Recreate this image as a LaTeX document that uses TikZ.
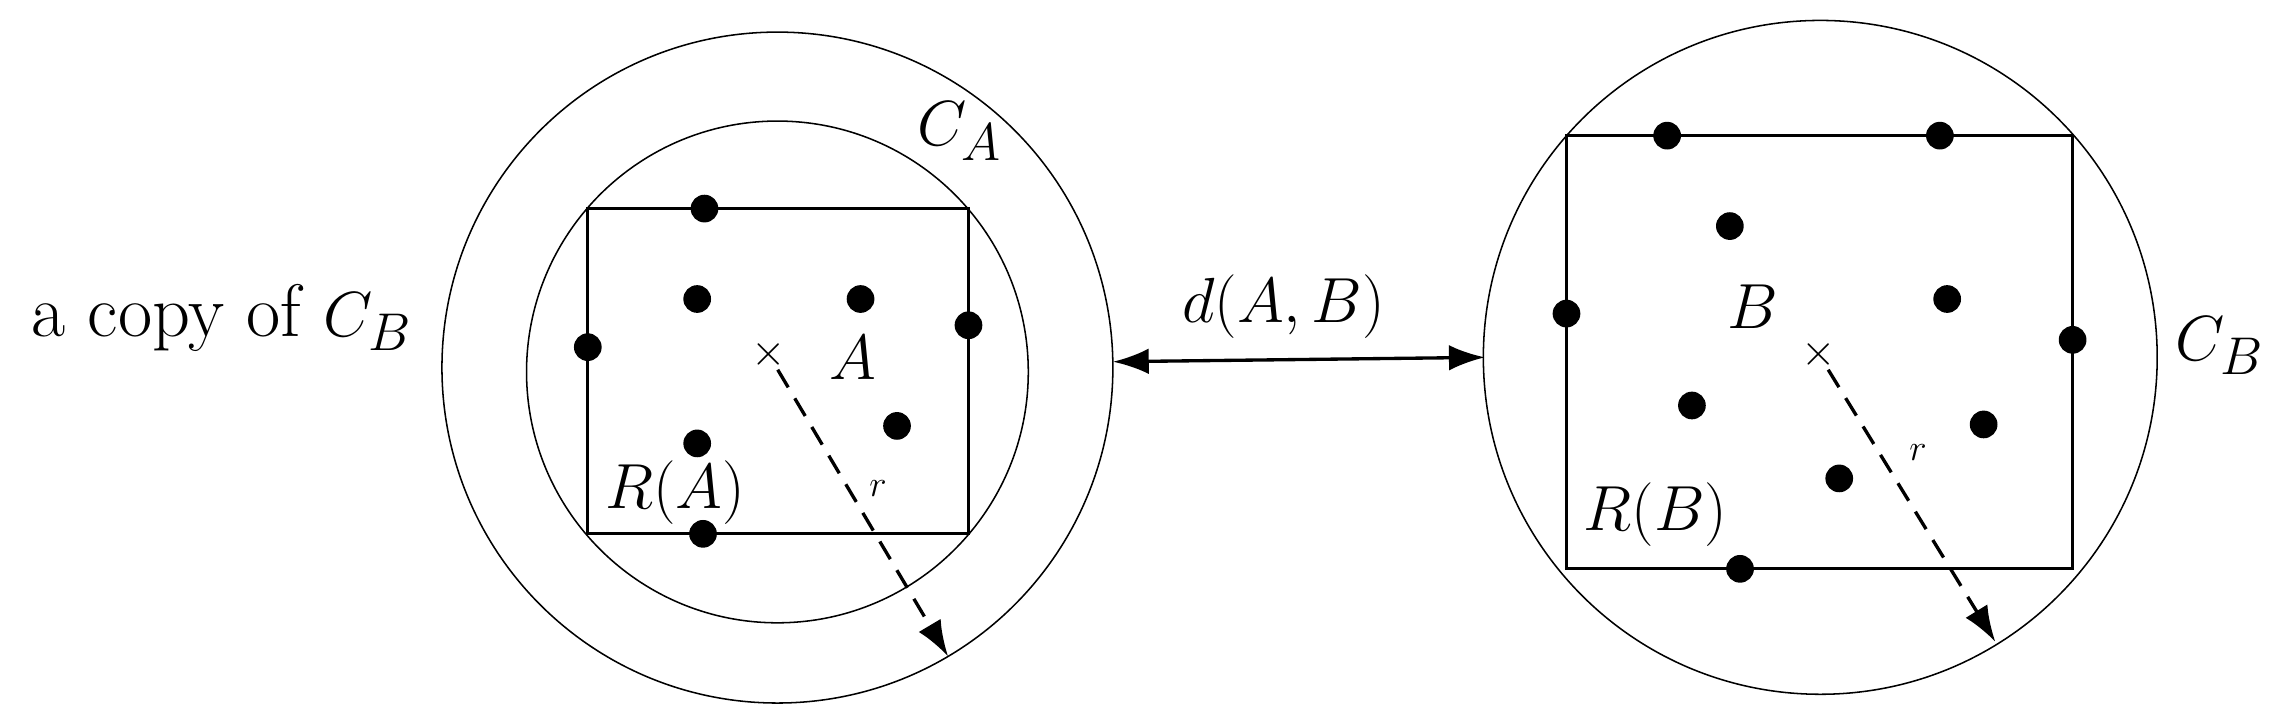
\documentclass[tikz,border=0pt]{standalone}
\usetikzlibrary{arrows.meta}
\begin{document}
\begin{tikzpicture}[x=0.02cm,y=-0.02cm,
  circ/.style={line width=0.6pt},
  rect/.style={line width=1.2pt},
  dot/.style={circle,fill=black,inner sep=0pt,minimum size=0.38cm},
  lbl/.style={font=\fontsize{29}{33}\selectfont},
  slbl/.style={font=\fontsize{15}{17}\selectfont},
  arr/.style={line width=1.3pt,-{Latex[length=14pt,width=10pt]}},
  dsh/.style={dash pattern=on 8pt off 5pt},
  cross/.style={inner sep=0pt,font=\fontsize{16}{16}\selectfont}]
\useasboundingbox (0,0) rectangle (1568,494);
% left
\coordinate (oA) at (533,252);
\draw[circ] (oA) circle (230);
\draw[circ] (533,255) circle (172);
\draw[rect] (403,143) rectangle (664,366);
\foreach \p [count=\i] in {(483,143),(478,205),(590,205),(664,223),(403,238),(615,292),(478,304),(482,366)}
  \node[dot] (a\i) at \p {};
\node[cross] (xa) at (527,243) {$\times$};
\coordinate (ea) at (650,450);
\draw[arr,dsh] (xa) -- (ea);
\node[lbl] (lA) at (585,245) {$A$};
\node[lbl] (lRA) at (463,338) {$R(A)$};
\node[slbl] (lra) at (602,335) {$r$};
\node[lbl] (lCA) at (658,90) {$C_A$};
\node[lbl] (copy) at (152,218) {a copy of $C_B$};
% right
\draw[circ] (1248,245) circle (231);
\draw[rect] (1074,93) rectangle (1421,390);
\foreach \p [count=\i] in {(1143,93),(1330,93),(1186,155),(1335,205),(1074,215),(1421,233),(1160,278),(1360,291),(1261,328),(1193,390)}
  \node[dot] (b\i) at \p {};
\node[cross] (xb) at (1247,243) {$\times$};
\coordinate (eb) at (1368,440);
\draw[arr,dsh] (xb) -- (eb);
\node[lbl] (lB) at (1202,210) {$B$};
\node[lbl] (lRB) at (1135,353) {$R(B)$};
\node[slbl] (lrb) at (1315,310) {$r$};
\node[lbl] (lCB) at (1522,237) {$C_B$};
% distance
\coordinate (p1) at (763,248);
\coordinate (p2) at (1018,245);
\draw[line width=1.3pt,{Latex[length=14pt,width=10pt]}-{Latex[length=14pt,width=10pt]}] (p1) -- (p2);
\node[lbl] (d) at (880,210) {$d(A,B)$};
\end{tikzpicture}
\end{document}
